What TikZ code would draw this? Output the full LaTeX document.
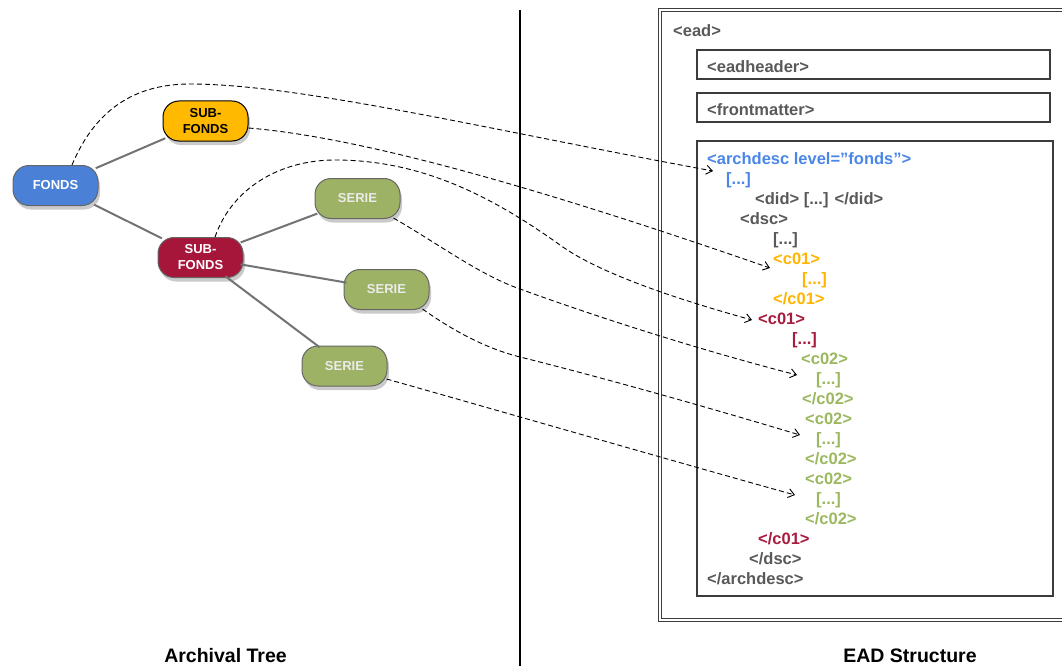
\documentclass[tikz,border=0pt]{standalone}
\usepackage{fontspec}
\setmainfont{Liberation Sans}
\usetikzlibrary{calc,shadows,arrows.meta}
\definecolor{cblue}{RGB}{74,128,214}
\definecolor{cyellow}{RGB}{255,186,0}
\definecolor{cred}{RGB}{166,22,58}
\definecolor{cgreen}{RGB}{157,178,100}
\definecolor{tblue}{RGB}{74,134,232}
\definecolor{tgray}{RGB}{89,89,89}
\definecolor{tyellow}{RGB}{255,180,0}
\definecolor{tred}{RGB}{169,27,61}
\definecolor{tgreen}{RGB}{155,184,95}
\definecolor{boxgray}{RGB}{60,60,60}
\begin{document}
\begin{tikzpicture}[x=1pt,y=-1pt,
  treenode/.style={rounded corners=16pt, minimum width=85pt, minimum height=40pt,
    inner sep=0pt, align=center, draw=black!60, line width=1pt,
    font=\fontsize{13}{16}\selectfont\bfseries,
    drop shadow={shadow xshift=2pt, shadow yshift=-4pt, opacity=0.35, fill=black!60}},
  treeedge/.style={draw=black!55, line width=2pt, shorten <=-3pt, shorten >=-3pt},
  link/.style={dashed, dash pattern=on 5pt off 3pt, line width=0.9pt,
    -{Straight Barb[length=6pt,width=9pt]}},
  code/.style={anchor=base west, inner sep=0pt, font=\fontsize{16.5}{20}\selectfont\bfseries},
  boxline/.style={draw=boxgray, line width=1.2pt},
  title/.style={font=\fontsize{19.5}{23}\selectfont\bfseries, anchor=base}
]
\useasboundingbox (0,0) rectangle (1062,666);

% separator
\draw[line width=2pt] (520,10) -- (520,666);

% right boxes
\draw[boxline, line width=1.3pt, double, double distance=2.2pt] (660,10) rectangle (1080,620);
\draw[boxline] (697,50) rectangle (1050,79);
\draw[boxline] (697,93) rectangle (1050,122);
\draw[boxline] (697,141) rectangle (1053,596);

% tree edges (drawn first, under the nodes)
\coordinate (pf) at (55.5,185.5);
\coordinate (py) at (205.5,121);
\coordinate (pr) at (200.5,257.5);
\coordinate (p1) at (357.5,198.5);
\coordinate (p2) at (386.5,289.5);
\coordinate (p3) at (344.5,366);

% tree nodes
\node[treenode, fill=cblue, text=white] (fonds) at (pf) {FONDS};
\node[treenode, fill=cyellow, text=black, draw=black] (sfy) at (py) {SUB-\\FONDS};
\node[treenode, fill=cred, text=white] (sfr) at (pr) {SUB-\\FONDS};
\node[treenode, fill=cgreen, text=white!92!black] (s1) at (p1) {SERIE};
\node[treenode, fill=cgreen, text=white!92!black] (s2) at (p2) {SERIE};
\node[treenode, fill=cgreen, text=white!92!black] (s3) at (p3) {SERIE};

\draw[treeedge] (fonds) -- (sfy);
\draw[treeedge] (fonds) -- (sfr);
\draw[treeedge] (sfr) -- (s1);
\draw[treeedge] (sfr) -- (s2);
\draw[treeedge] (sfr) -- (s3);

% code text
\node[code, text=tgray] (ead) at (673,37) {<ead>};
\node[code, text=tgray] (eadheader) at (707,73) {<eadheader>};
\node[code, text=tgray] (frontmatter) at (707,116) {<frontmatter>};
\node[code, text=tblue] (archdesc) at (707,164) {<archdesc level=”fonds”>};
\node[code, text=tblue] (d1) at (726,184) {[...]};
\node[code, text=tgray] (did) at (755,204) {<did> [...] </did>};
\node[code, text=tgray] (dsc) at (740,224) {<dsc>};
\node[code, text=tgray] (d2) at (773,244) {[...]};
\node[code, text=tyellow] (c01y) at (773,264) {<c01>};
\node[code, text=tyellow] (d3) at (802,284) {[...]};
\node[code, text=tyellow] (c01ye) at (773,304) {</c01>};
\node[code, text=tred] (c01r) at (758,324) {<c01>};
\node[code, text=tred] (d4) at (792,344) {[...]};
\node[code, text=tgreen] (c02a) at (801,364) {<c02>};
\node[code, text=tgreen] (d5) at (816,384) {[...]};
\node[code, text=tgreen] (c02ae) at (802,404) {</c02>};
\node[code, text=tgreen] (c02b) at (805,424) {<c02>};
\node[code, text=tgreen] (d6) at (816,444) {[...]};
\node[code, text=tgreen] (c02be) at (805,464) {</c02>};
\node[code, text=tgreen] (c02c) at (805,484) {<c02>};
\node[code, text=tgreen] (d7) at (816,504) {[...]};
\node[code, text=tgreen] (c02ce) at (805,524) {</c02>};
\node[code, text=tred] (c01re) at (758,544) {</c01>};
\node[code, text=tgray] (dsce) at (749,564) {</dsc>};
\node[code, text=tgray] (archdesce) at (707,584) {</archdesc>};

% arrow targets
\coordinate (a1) at (713,171);
\coordinate (a2) at (770,268);
\coordinate (a3) at (752,320);
\coordinate (a4) at (797,375);
\coordinate (a5) at (800,435);
\coordinate (a6) at (795,495);

% dashed links
\draw[link] ($(fonds.north)+(16.5,0)$) .. controls (97,105) and (140,84) .. (190,84)
   .. controls (300,84) and (490,130) .. (a1);
\draw[link] ($(sfy.east)+(0,7)$) .. controls (370,138) and (560,195) .. (a2);
\draw[link] ($(sfr.north)+(14.5,0)$) .. controls (232,188) and (280,160) .. (335,160)
   .. controls (420,160) and (490,195) .. (560,245)
   .. controls (600,274) and (680,300) .. (a3);
\draw[link] ($(s1.south east)+(-7,-1)$) .. controls (440,245) and (480,275) .. (520,289)
   .. controls (600,318) and (700,350) .. (a4);
\draw[link] ($(s2.south east)+(-7,-1)$) .. controls (445,325) and (480,347) .. (520,357)
   .. controls (600,377) and (700,405) .. (a5);
\draw[link] ($(s3.east)+(-1,13)$) .. controls (500,411) and (680,463) .. (a6);

% titles
\node[title] (t1) at (225.5,662) {Archival Tree};
\node[title] (t2) at (910,662) {EAD Structure};
\end{tikzpicture}
\end{document}
